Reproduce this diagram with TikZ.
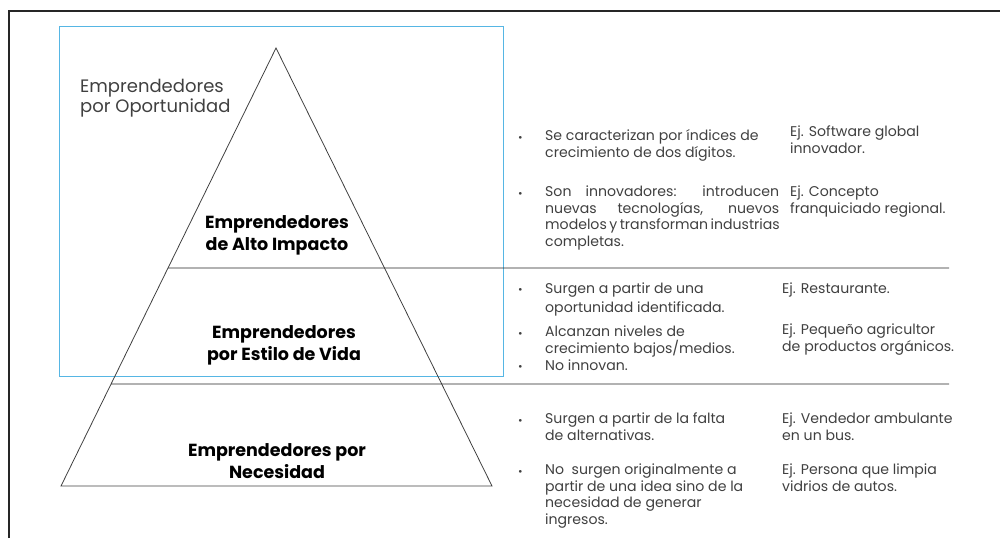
\documentclass[tikz,border=0pt]{standalone}
\usepackage{fontspec}
\usetikzlibrary{calc}
\setmainfont{Poppins}
\definecolor{skyb}{RGB}{86,182,228}
\definecolor{txtg}{RGB}{64,64,64}
\begin{document}
\begin{tikzpicture}[x=1pt,y=-1pt,
  frame/.style={draw=black!85, line width=1.8pt},
  pyr/.style={draw=black!75, line width=0.8pt},
  sep/.style={draw=black!85, line width=0.9pt},
  box/.style={draw=skyb, line width=1pt},
  lab/.style={font=\fontsize{17.5}{21.5}\selectfont\bfseries, align=center, anchor=base, inner sep=0},
  glab/.style={font=\fontsize{18}{20}\selectfont, text=txtg, align=left, anchor=base west, inner sep=0},
  desc/.style={font=\fontsize{14.1}{16.4}\selectfont, text=txtg, align=left, anchor=base west, inner sep=0},
  bul/.style={font=\fontsize{11}{16}\selectfont, text=txtg, anchor=base west, inner sep=0},
]
\useasboundingbox (0,0) rectangle (1000,538);
% frame
\coordinate (f1) at (9,538);
\coordinate (f2) at (9,11);
\coordinate (f3) at (1000,11);
\draw[frame] (f1) -- (f2) -- (f3);
% blue box
\coordinate (b1) at (59,26);
\coordinate (b2) at (503,376);
\draw[box] (b1) rectangle (b2);
% pyramid
\coordinate (A) at (276,48);
\coordinate (BL) at (61,486);
\coordinate (BR) at (492,486);
\draw[pyr] (A) -- (BL) -- (BR) -- cycle;
\coordinate (s1a) at ($(A)!{220/438}!(BL)$);
\coordinate (s1b) at (949,268);
\coordinate (s2a) at ($(A)!{336/438}!(BL)$);
\coordinate (s2b) at (949,384);
\draw[sep] (s1a) -- (s1b);
\draw[sep] (s2a) -- (s2b);
% labels (anchor = baseline of last line)
\node[glab] (op) at (80,112) {Emprendedores\\por Oportunidad};
\node[lab] (alto) at (277,250) {Emprendedores\\de Alto Impacto};
\node[lab] (estilo) at (284,360) {Emprendedores\\por Estilo de Vida};
\node[lab] (nec) at (277,478) {Emprendedores por\\Necesidad};
% section 1
\node[bul] (u1) at (518,141) {•};
\node[desc] (d1) at (545,157) {Se caracterizan por índices de\\crecimiento de dos dígitos.};
\node[bul] (u2) at (518,197) {•};
\node[desc] (d2) at (545,246) {\makebox[234pt][s]{Son innovadores: introducen}\\\makebox[234pt][s]{nuevas tecnologías, nuevos}\\\makebox[234pt][s]{modelos y transforman industrias}\\completas.};
\node[desc] (e1) at (790,153) {Ej. Software global\\innovador.};
\node[desc] (e2) at (790,213) {Ej. Concepto\\franquiciado regional.};
% section 2
\node[bul] (u3) at (518,293) {•};
\node[desc, font=\fontsize{14.1}{18.5}\selectfont] (d3) at (545,312) {Surgen a partir de una\\oportunidad identificada.};
\node[bul] (u4) at (518,337) {•};
\node[desc] (d4) at (545,353) {Alcanzan niveles de\\crecimiento bajos/medios.};
\node[bul] (u5) at (518,370) {•};
\node[desc] (d5) at (545,370) {No innovan.};
\node[desc] (e3) at (782,293) {Ej. Restaurante.};
\node[desc] (e4) at (782,351) {Ej. Pequeño agricultor\\de productos orgánicos.};
% section 3
\node[bul] (u6) at (518,424) {•};
\node[desc] (d6) at (545,440) {Surgen a partir de la falta\\de alternativas.};
\node[bul] (u7) at (518,475) {•};
\node[desc] (d7) at (545,524) {No\ \ surgen originalmente a\\partir de una idea sino de la\\necesidad de generar\\ingresos.};
\node[desc] (e5) at (782,440) {Ej. Vendedor ambulante\\en un bus.};
\node[desc] (e6) at (782,491) {Ej. Persona que limpia\\vidrios de autos.};
\end{tikzpicture}
\end{document}
